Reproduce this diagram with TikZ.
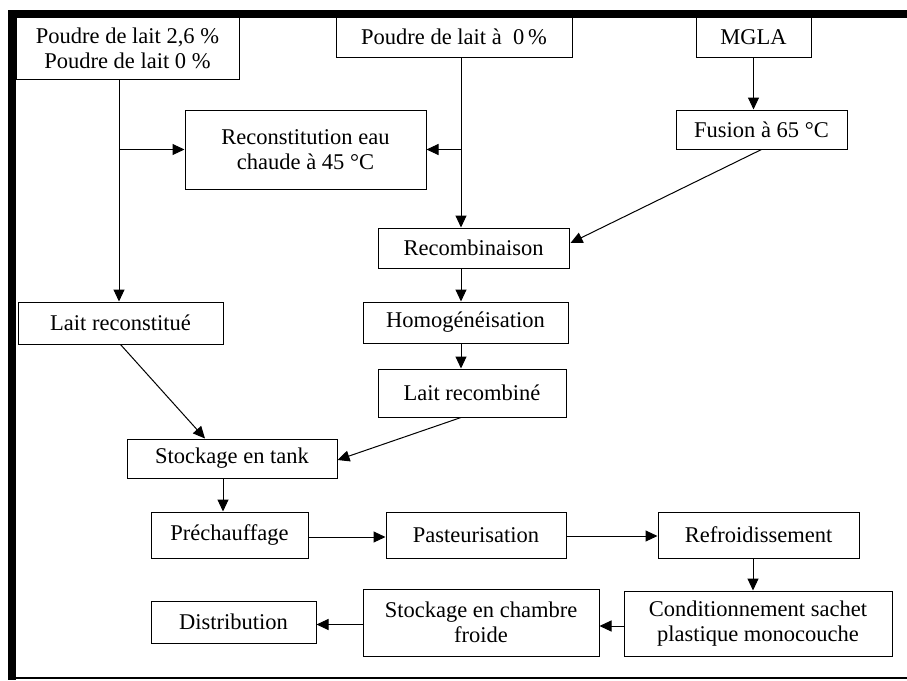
\documentclass[tikz,border=0pt]{standalone}
\usepackage{fontspec}
\setmainfont{Liberation Serif}
\usetikzlibrary{arrows.meta,calc}
\begin{document}
\begin{tikzpicture}[x=1pt,y=-1pt,
  box/.style={draw,line width=1pt,inner sep=0pt,align=center,font=\fontsize{22.5}{25}\selectfont},
  arr/.style={draw,line width=1pt,-{Triangle[length=12pt,width=11pt]}},
  ln/.style={draw,line width=1pt}]
\useasboundingbox (0,0) rectangle (907,680);
% frame
\fill (7.5,10) rectangle (15.7,680);
\fill (7.5,10) rectangle (907,18);
\draw[line width=1.3pt] (15.7,678) -- (907,678);
% nodes
\node[box,minimum width=223pt,minimum height=62pt] (p1) at (127.5,48) {Poudre de lait 2,6 \%\\Poudre de lait 0 \%};
\node[box,minimum width=236pt,minimum height=40pt] (p2) at (454,37) {Poudre de lait à\enspace 0\,\%};
\node[box,minimum width=115pt,minimum height=40pt] (mgla) at (753.5,37) {MGLA};
\node[box,minimum width=241pt,minimum height=79pt] (recon) at (305.5,149.5) {Reconstitution eau\\chaude à 45 °C};
\node[box,minimum width=171pt,minimum height=39pt] (fus) at (761.5,129.5) {Fusion à 65 °C};
\node[box,minimum width=191pt,minimum height=40pt] (recomb) at (473.5,248) {Recombinaison};
\node[box,minimum width=205pt,minimum height=42pt] (laitrec) at (120.5,323) {Lait reconstitué};
\node[box,minimum width=205pt,minimum height=41pt] (homog) at (465.5,322.5) {Homogénéisation};
\node[box,minimum width=188pt,minimum height=48pt] (laitrcb) at (472,393) {Lait recombiné};
\node[box,minimum width=210pt,minimum height=39pt] (tank) at (232,458.5) {Stockage en tank};
\node[box,minimum width=157pt,minimum height=46pt] (prech) at (229.5,535) {Préchauffage};
\node[box,minimum width=180pt,minimum height=46pt] (past) at (476,535) {Pasteurisation};
\node[box,minimum width=201pt,minimum height=46pt] (refr) at (758.5,535) {Refroidissement};
\node[box,minimum width=165pt,minimum height=42pt] (distr) at (233.5,622) {Distribution};
\node[box,minimum width=236pt,minimum height=67pt] (stockf) at (481,622.5) {Stockage en chambre\\froide};
\node[box,minimum width=268pt,minimum height=65pt] (cond) at (758,623.5) {Conditionnement sachet\\plastique monocouche};
% helper coordinates
\coordinate (v1) at (119,0);
\coordinate (v2) at (461,0);
% connectors
\draw[arr] (v1 |- p1.south) -- (v1 |- laitrec.north);
\draw[arr] (v1 |- recon.west) -- (recon.west);
\draw[arr] (v2 |- p2.south) -- (v2 |- recomb.north);
\draw[arr] (v2 |- recon.east) -- (recon.east);
\draw[arr] (mgla.south) -- (mgla.south |- fus.north);
\draw[arr] (fus.south) -- ($(recomb.east)+(1,-5)$);
\draw[arr] (v2 |- recomb.south) -- (v2 |- homog.north);
\draw[arr] (v2 |- homog.south) -- (v2 |- laitrcb.north);
\draw[arr] (laitrec.south) -- ($(tank.north)+(-27,0)$);
\draw[arr] (v2 |- laitrcb.south) -- ($(tank.east)+(0,1.5)$);
\draw[arr] ($(tank.south)+(-9,0)$) -- ($(prech.north)+(-6.5,0)$);
\draw[arr] ($(prech.east)+(0,2)$) -- ($(past.west)+(0,2)$);
\draw[arr] ($(past.east)+(0,1)$) -- ($(refr.west)+(0,1)$);
\draw[arr] ($(refr.south)+(-5.5,0)$) -- ($(cond.north)+(-5,0)$);
\draw[arr] ($(cond.west)+(0,2.5)$) -- ($(stockf.east)+(0,3.5)$);
\draw[arr] ($(stockf.west)+(0,2)$) -- ($(distr.east)+(0,2.5)$);
\end{tikzpicture}
\end{document}
